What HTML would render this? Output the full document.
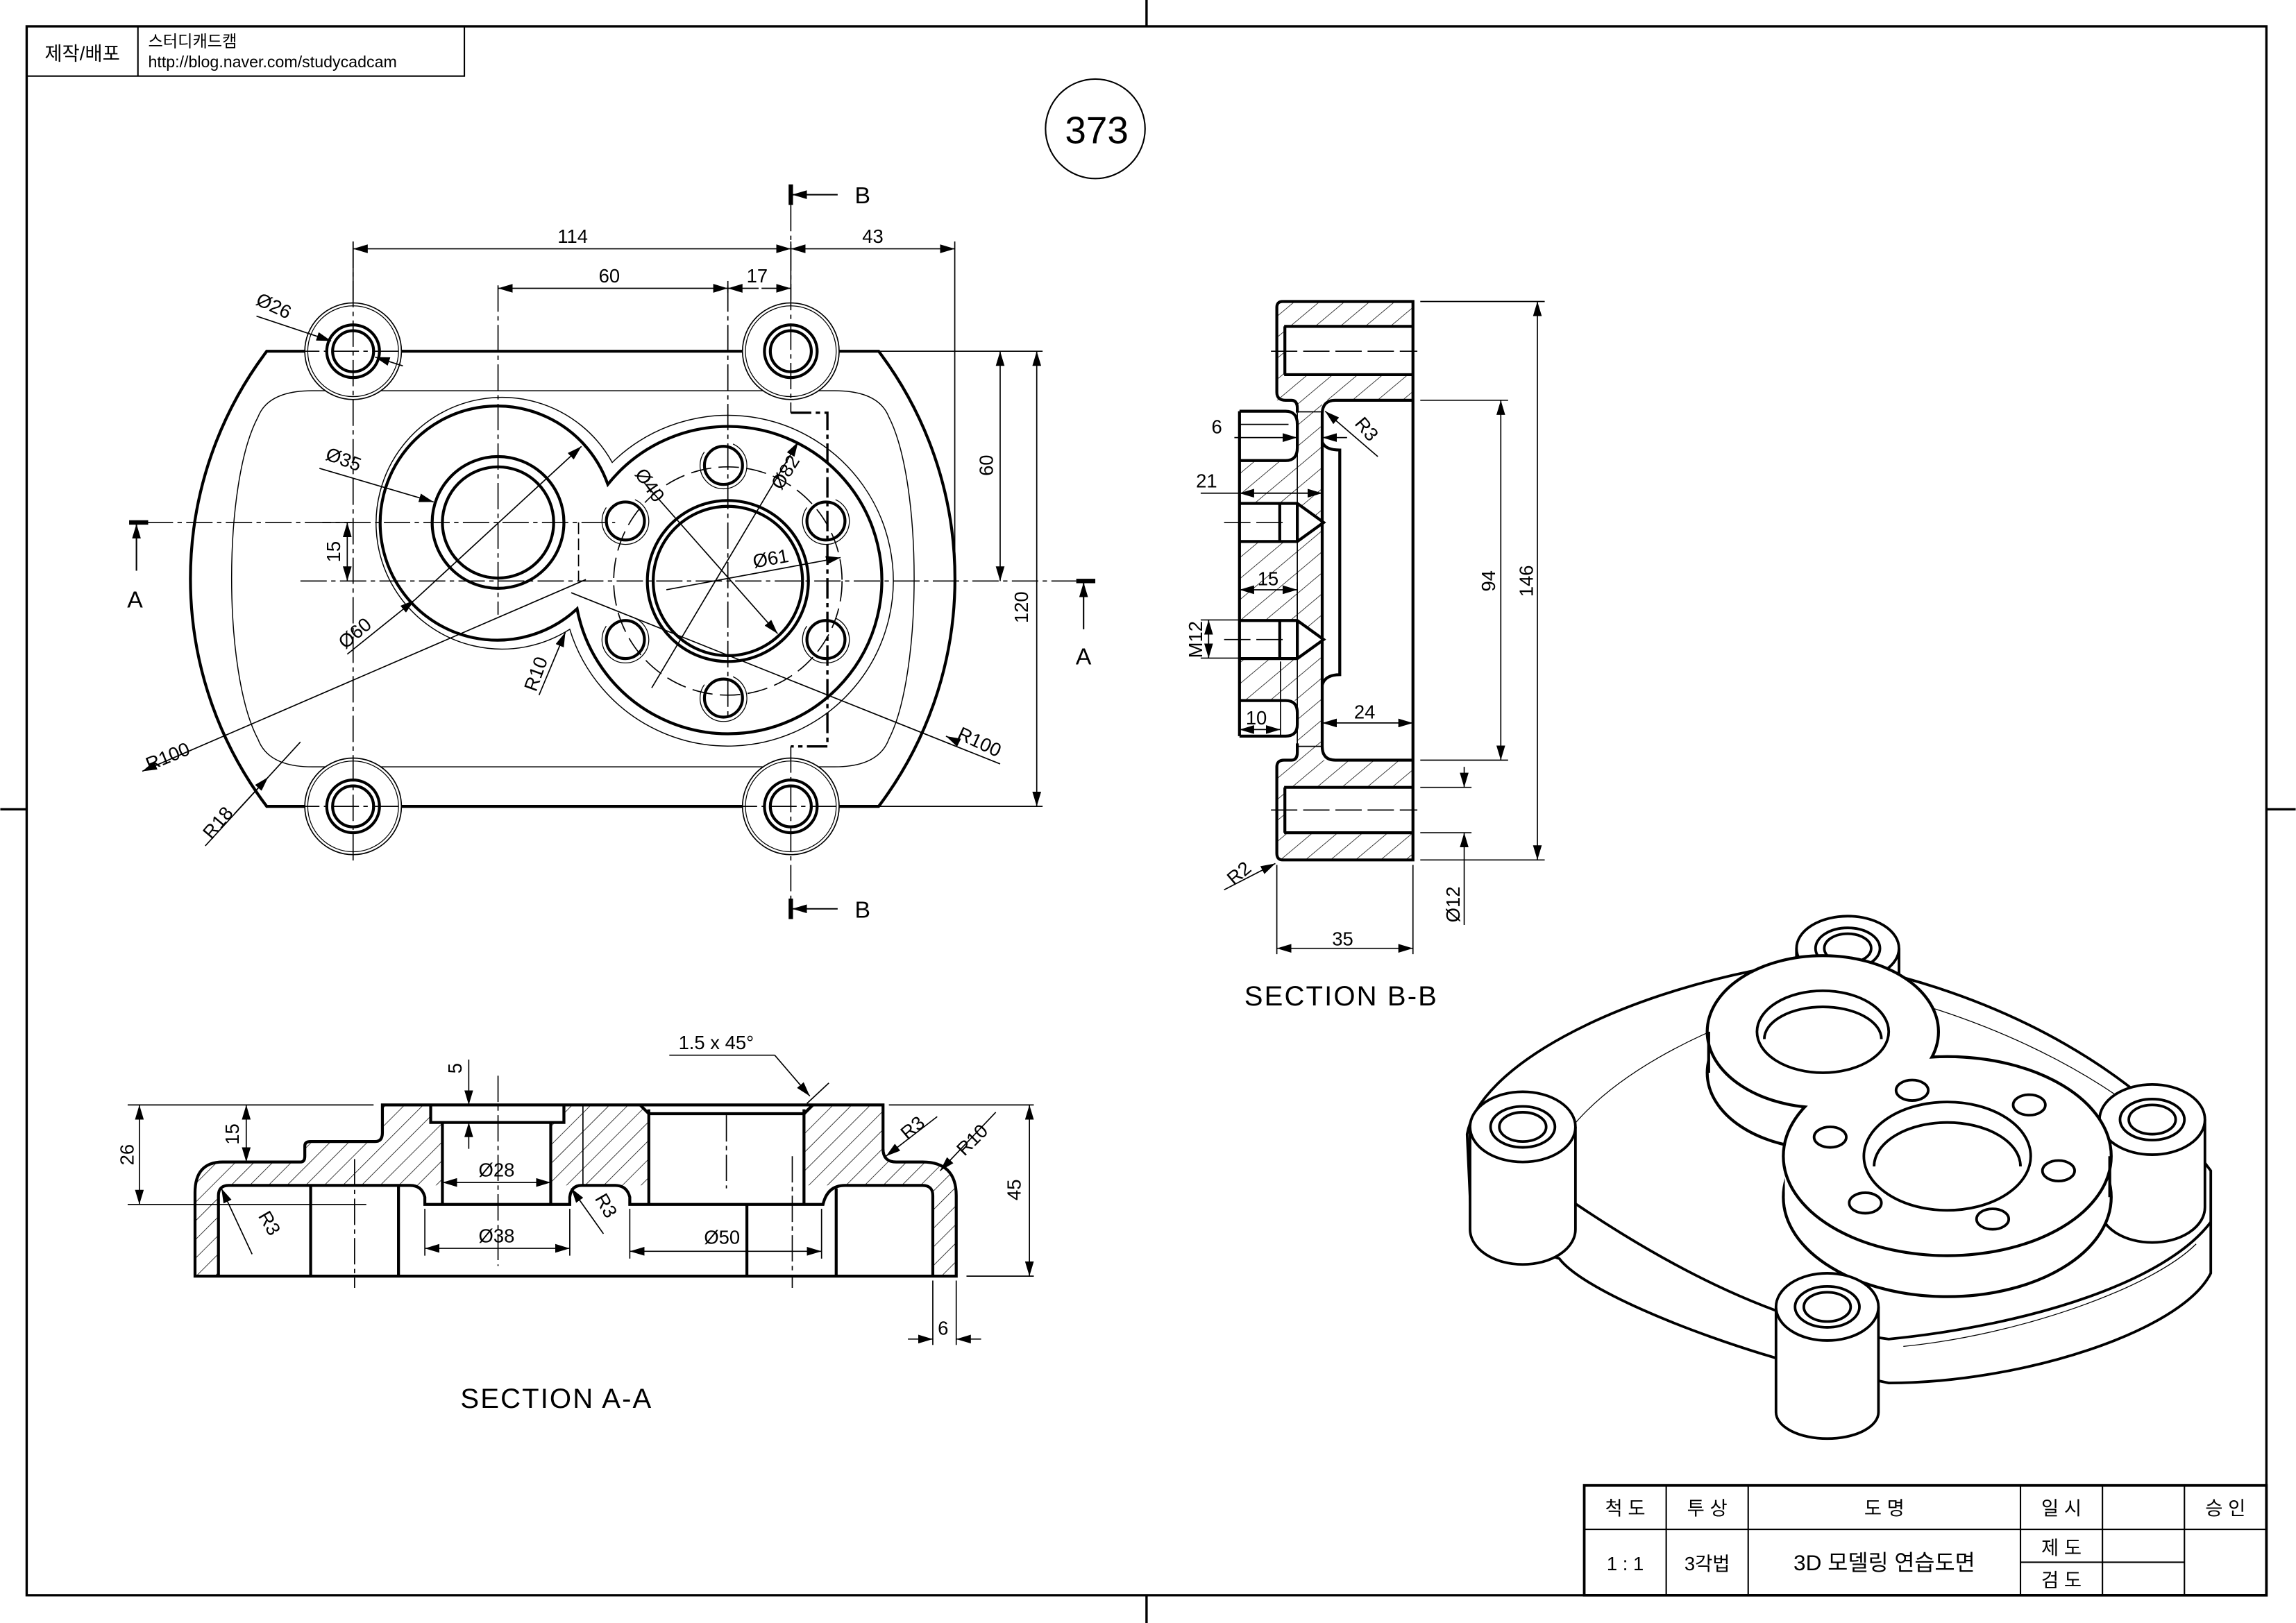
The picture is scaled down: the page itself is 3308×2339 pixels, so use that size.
<!DOCTYPE html>
<html><head><meta charset="utf-8"><style>
html,body{margin:0;padding:0;background:#fff}
svg{display:block}
text{font-family:"Liberation Sans","Noto Sans CJK KR",sans-serif;fill:#000}
</style></head><body>
<svg xmlns="http://www.w3.org/2000/svg" width="3308" height="2339" viewBox="0 0 1568 1109">
<defs>
<marker id="a" viewBox="0 0 10 6" refX="10" refY="3" markerWidth="10" markerHeight="6" markerUnits="userSpaceOnUse" orient="auto-start-reverse"><path d="M0,0 L10,3 L0,6 z" fill="#000"/></marker>
<pattern id="h" width="9" height="9" patternUnits="userSpaceOnUse" patternTransform="rotate(-45)"><line x1="0" y1="0" x2="9" y2="0" stroke="#000" stroke-width="0.7"/></pattern>
<pattern id="h2" width="11" height="11" patternUnits="userSpaceOnUse" patternTransform="rotate(-40)"><line x1="0" y1="0" x2="11" y2="0" stroke="#000" stroke-width="0.7"/></pattern>
</defs>
<rect width="1568" height="1109" fill="#fff"/>
<g stroke="#000" fill="none">
<rect x="18" y="18" width="1530" height="1072" stroke-width="1.6"/>
<line x1="783" y1="0" x2="783" y2="18" stroke-width="1.6"/>
<line x1="783" y1="1090" x2="783" y2="1109" stroke-width="1.6"/>
<line x1="0" y1="553" x2="18" y2="553" stroke-width="1.6"/>
<line x1="1548" y1="553" x2="1568" y2="553" stroke-width="1.6"/>
<rect x="18" y="18" width="299" height="34" stroke-width="1"/>
<line x1="94" y1="18" x2="94" y2="52" stroke-width="1"/>
<circle cx="748" cy="88" r="34" stroke-width="1"/>
</g>
<text x="56" y="41" font-size="13" text-anchor="middle">제작/배포</text>
<text x="101" y="32" font-size="11">스터디캐드캠</text>
<text x="101" y="46" font-size="11">http://blog.naver.com/studycadcam</text>
<text x="749" y="98" font-size="26" text-anchor="middle">373</text>

<!-- TOP VIEW -->
<g fill="none" stroke="#000">
<path d="M213,267 L570,267 Q600,267 607,285 C630,330 630,460 607,505 Q600,524 570,524 L213,524 Q183,524 176,505 C152,460 152,330 176,285 Q183,267 213,267 Z" stroke-width="0.7"/>
<path d="M274,240 L507,240 M573,240 L600,240 A258,258 0 0,1 600,551 L573,551 M507,551 L274,551 M208,551 L182,551 A258,258 0 0,1 182,240 L208,240" stroke-width="2"/>
<path d="M418,316 A86,86 0 1,0 389,430 A113,113 0 1,0 418,316 Z" stroke-width="0.7"/>
<path d="M415,331 A80,80 0 1,0 394,416 A105,105 0 1,0 415,331 Z" stroke-width="2"/>
<circle cx="340" cy="357" r="45" stroke-width="2"/>
<circle cx="340" cy="357" r="38" stroke-width="2"/>
<circle cx="497" cy="397" r="55" stroke-width="2"/>
<circle cx="497" cy="397" r="51" stroke-width="2"/>
<circle cx="497" cy="397" r="78" stroke-width="0.8" stroke-dasharray="14 5"/>
<g stroke-width="2">
<circle cx="494" cy="318" r="13"/><circle cx="427" cy="356" r="13"/><circle cx="427" cy="437" r="13"/>
<circle cx="494" cy="477" r="13"/><circle cx="564" cy="356" r="13"/><circle cx="564" cy="437" r="13"/>
</g>
<g stroke-width="0.6" stroke-dasharray="60 22">
<circle cx="494" cy="318" r="16"/><circle cx="427" cy="356" r="16"/><circle cx="427" cy="437" r="16"/>
<circle cx="494" cy="477" r="16"/><circle cx="564" cy="356" r="16"/><circle cx="564" cy="437" r="16"/>
</g>
<g>
<circle cx="241" cy="240" r="33" stroke-width="0.8" fill="#fff"/><circle cx="241" cy="240" r="31" stroke-width="0.6"/><circle cx="241" cy="240" r="18" stroke-width="2"/><circle cx="241" cy="240" r="14" stroke-width="2"/>
<circle cx="540" cy="240" r="33" stroke-width="0.8" fill="#fff"/><circle cx="540" cy="240" r="31" stroke-width="0.6"/><circle cx="540" cy="240" r="18" stroke-width="2"/><circle cx="540" cy="240" r="14" stroke-width="2"/>
<circle cx="241" cy="551" r="33" stroke-width="0.8" fill="#fff"/><circle cx="241" cy="551" r="31" stroke-width="0.6"/><circle cx="241" cy="551" r="18" stroke-width="2"/><circle cx="241" cy="551" r="14" stroke-width="2"/>
<circle cx="540" cy="551" r="33" stroke-width="0.8" fill="#fff"/><circle cx="540" cy="551" r="31" stroke-width="0.6"/><circle cx="540" cy="551" r="18" stroke-width="2"/><circle cx="540" cy="551" r="14" stroke-width="2"/>
</g>
<g stroke-width="0.8" stroke-dasharray="18 3 3 3">
<line x1="100" y1="357" x2="420" y2="357"/>
<line x1="205" y1="397" x2="735" y2="397"/>
<line x1="340" y1="195" x2="340" y2="420"/>
<line x1="497" y1="195" x2="497" y2="490"/>
<line x1="241" y1="165" x2="241" y2="590"/>
<line x1="200" y1="240" x2="282" y2="240"/><line x1="200" y1="551" x2="282" y2="551"/>
<line x1="499" y1="551" x2="581" y2="551"/>
<line x1="540" y1="140" x2="540" y2="282"/><line x1="540" y1="510" x2="540" y2="614"/>
</g>
<path d="M540,282 L565,282 L565,510 L540,510" stroke-width="1.6" stroke-dasharray="14 3 3 3"/>
<line x1="395" y1="357" x2="395" y2="397" stroke-width="0.8" stroke-dasharray="8 3"/>
<line x1="88" y1="357" x2="101" y2="357" stroke-width="3"/>
<line x1="93" y1="390" x2="93" y2="358" stroke-width="1" marker-end="url(#a)"/>
<line x1="735" y1="397" x2="748" y2="397" stroke-width="3"/>
<line x1="740" y1="430" x2="740" y2="398" stroke-width="1" marker-end="url(#a)"/>
<line x1="540" y1="126" x2="540" y2="140" stroke-width="3"/>
<line x1="572" y1="133" x2="541" y2="133" stroke-width="1" marker-end="url(#a)"/>
<line x1="540" y1="614" x2="540" y2="628" stroke-width="3"/>
<line x1="572" y1="621" x2="541" y2="621" stroke-width="1" marker-end="url(#a)"/>
<g stroke-width="0.8">
<line x1="241" y1="165" x2="241" y2="205"/><line x1="540" y1="165" x2="540" y2="205"/><line x1="652" y1="165" x2="652" y2="392"/>
<line x1="241" y1="170" x2="540" y2="170" marker-start="url(#a)" marker-end="url(#a)"/>
<line x1="540" y1="170" x2="652" y2="170" marker-start="url(#a)" marker-end="url(#a)"/>
<line x1="340" y1="197" x2="497" y2="197" marker-start="url(#a)" marker-end="url(#a)"/>
<line x1="497" y1="192" x2="497" y2="200"/>
<line x1="520" y1="197" x2="540" y2="197" marker-end="url(#a)"/>
<line x1="518" y1="197" x2="497" y2="197" marker-end="url(#a)"/>
<line x1="575" y1="240" x2="712" y2="240"/><line x1="600" y1="551" x2="712" y2="551"/>
<line x1="683" y1="240" x2="683" y2="397" marker-start="url(#a)" marker-end="url(#a)"/>
<line x1="708" y1="240" x2="708" y2="551" marker-start="url(#a)" marker-end="url(#a)"/>
<line x1="237" y1="357" x2="237" y2="397" marker-start="url(#a)" marker-end="url(#a)"/>
<line x1="220" y1="357" x2="240" y2="357"/>
<line x1="175" y1="216" x2="226" y2="233" marker-end="url(#a)"/>
<line x1="275" y1="250" x2="256" y2="244" marker-end="url(#a)"/>
<line x1="218" y1="320" x2="296" y2="343" marker-end="url(#a)"/>
<line x1="237" y1="447" x2="283" y2="410" marker-end="url(#a)"/>
<line x1="283" y1="410" x2="397" y2="305" marker-end="url(#a)"/>
<line x1="445" y1="470" x2="545" y2="302" marker-end="url(#a)"/>
<line x1="455" y1="403" x2="574" y2="381" marker-end="url(#a)"/>
<line x1="440" y1="330" x2="531" y2="433" marker-end="url(#a)"/>
<line x1="97" y1="527" x2="400" y2="396" marker-start="url(#a)"/>
<line x1="683" y1="522" x2="390" y2="405"/>
<line x1="652" y1="506" x2="646" y2="503" marker-end="url(#a)"/>
<line x1="140" y1="578" x2="205" y2="507"/>
<line x1="160" y1="556" x2="183" y2="531" marker-end="url(#a)"/>
<line x1="368" y1="475" x2="386" y2="432" marker-end="url(#a)"/>
</g>
</g>
<g font-size="13">
<text x="391" y="166" text-anchor="middle">114</text>
<text x="596" y="166" text-anchor="middle">43</text>
<text x="416" y="193" text-anchor="middle">60</text>
<text x="517" y="193" text-anchor="middle">17</text>
<text transform="translate(678,318) rotate(-90)" text-anchor="middle">60</text>
<text transform="translate(702,415) rotate(-90)" text-anchor="middle">120</text>
<text transform="translate(232,377) rotate(-90)" text-anchor="middle">15</text>
<text transform="translate(185,213) rotate(25)" text-anchor="middle">Ø26</text>
<text transform="translate(233,318) rotate(20)" text-anchor="middle">Ø35</text>
<text transform="translate(245,436) rotate(-40)" text-anchor="middle">Ø60</text>
<text transform="translate(440,334) rotate(55)" text-anchor="middle">Ø40</text>
<text transform="translate(540,325) rotate(-58)" text-anchor="middle">Ø82</text>
<text transform="translate(527,386) rotate(-10)" text-anchor="middle">Ø61</text>
<text transform="translate(370,462) rotate(-70)" text-anchor="middle">R10</text>
<text transform="translate(116,521) rotate(-22)" text-anchor="middle">R100</text>
<text transform="translate(667,511) rotate(25)" text-anchor="middle">R100</text>
<text transform="translate(152,565) rotate(-50)" text-anchor="middle">R18</text>
</g>
<g font-size="16">
<text x="92" y="415" text-anchor="middle">A</text>
<text x="740" y="454" text-anchor="middle">A</text>
<text x="589" y="139" text-anchor="middle">B</text>
<text x="589" y="627" text-anchor="middle">B</text>
</g>

<!-- SECTION A-A -->
<path d="M133,872 L133,815 Q133,794 152,794 L205,794 Q208,794 208,790 L208,783 Q208,780 212,780 L256,780 Q261,780 261,774 L261,755 L603,755 L603,785 Q603,794 612,794 L630,794 Q653,794 653,817 L653,872 L637,872 L637,817 Q637,810 630,810 L577,810 Q571,810 569,815 L562,823 L430,823 L430,818 Q428,810 420,810 L397,810 Q390,810 389,818 L389,823 L290,823 L290,818 Q288,810 280,810 L156,810 Q149,810 149,817 L149,872 Z" fill="url(#h)" stroke="none"/>
<g fill="#fff" stroke="none">
<path d="M294,755 L385,755 L385,767 L376,767 L376,823 L302,823 L302,767 L294,767 Z"/>
<path d="M437,755 L555,755 L549,761 L549,823 L443,823 L443,761 Z"/>
<rect x="149" y="810" width="488" height="62"/>
<rect x="290" y="810" width="99" height="13"/>
<rect x="430" y="810" width="141" height="13"/>
</g>
<g fill="none" stroke="#000" stroke-width="2">
<path d="M133,872 L133,815 Q133,794 152,794 L205,794 Q208,794 208,790 L208,783 Q208,780 212,780 L256,780 Q261,780 261,774 L261,755 L603,755 L603,785 Q603,794 612,794 L630,794 Q653,794 653,817 L653,872 Z"/>
<path d="M149,872 L149,817 Q149,810 156,810 L280,810 Q288,810 290,818 L290,823 L389,823 L389,818 Q390,810 397,810 L420,810 Q428,810 430,818 L430,823 L562,823 Q565,810 577,810 L630,810 Q637,810 637,817 L637,872"/>
<line x1="212" y1="810" x2="212" y2="872"/><line x1="272" y1="810" x2="272" y2="872"/>
<line x1="510" y1="823" x2="510" y2="872"/><line x1="571" y1="812" x2="571" y2="872"/>
<path d="M294,755 L294,767 L385,767 L385,755"/>
<line x1="302" y1="767" x2="302" y2="823"/><line x1="376" y1="767" x2="376" y2="823"/>
<line x1="443" y1="758" x2="443" y2="823"/><line x1="549" y1="758" x2="549" y2="823"/>
<line x1="443" y1="761" x2="549" y2="761"/>
<line x1="437" y1="755" x2="443" y2="761"/><line x1="555" y1="755" x2="549" y2="761"/>
</g>
<g fill="none" stroke="#000" stroke-width="0.8">
<line x1="398" y1="755" x2="398" y2="810"/>
<g stroke-dasharray="18 3 3 3">
<line x1="340" y1="735" x2="340" y2="865"/>
<line x1="242" y1="792" x2="242" y2="880"/>
<line x1="541" y1="790" x2="541" y2="880"/>
<line x1="496" y1="762" x2="496" y2="812"/>
</g>
<line x1="87" y1="755" x2="255" y2="755"/><line x1="87" y1="823" x2="250" y2="823"/>
<line x1="95" y1="755" x2="95" y2="823" marker-start="url(#a)" marker-end="url(#a)"/>
<line x1="168" y1="755" x2="168" y2="794" marker-start="url(#a)" marker-end="url(#a)"/>
<line x1="320" y1="724" x2="320" y2="755" marker-end="url(#a)"/>
<line x1="320" y1="785" x2="320" y2="767" marker-end="url(#a)"/>
<line x1="302" y1="808" x2="376" y2="808" marker-start="url(#a)" marker-end="url(#a)"/>
<line x1="290" y1="826" x2="290" y2="858"/><line x1="389" y1="826" x2="389" y2="858"/>
<line x1="290" y1="853" x2="389" y2="853" marker-start="url(#a)" marker-end="url(#a)"/>
<line x1="430" y1="826" x2="430" y2="860"/><line x1="561" y1="826" x2="561" y2="860"/>
<line x1="430" y1="855" x2="561" y2="855" marker-start="url(#a)" marker-end="url(#a)"/>
<line x1="607" y1="755" x2="706" y2="755"/><line x1="660" y1="872" x2="706" y2="872"/>
<line x1="703" y1="755" x2="703" y2="872" marker-start="url(#a)" marker-end="url(#a)"/>
<line x1="637" y1="875" x2="637" y2="919"/><line x1="653" y1="875" x2="653" y2="919"/>
<line x1="620" y1="915" x2="637" y2="915" marker-end="url(#a)"/>
<line x1="670" y1="915" x2="653" y2="915" marker-end="url(#a)"/>
<line x1="457" y1="721" x2="529" y2="721"/>
<line x1="529" y1="721" x2="553" y2="749" marker-end="url(#a)"/>
<line x1="551" y1="754" x2="566" y2="740"/>
<line x1="640" y1="763" x2="605" y2="790" marker-end="url(#a)"/>
<line x1="680" y1="760" x2="642" y2="800" marker-end="url(#a)"/>
<line x1="172" y1="857" x2="151" y2="812" marker-end="url(#a)"/>
<line x1="412" y1="843" x2="390" y2="812" marker-end="url(#a)"/>
</g>
<g font-size="13">
<text transform="translate(91,789) rotate(-90)" text-anchor="middle">26</text>
<text transform="translate(163,775) rotate(-90)" text-anchor="middle">15</text>
<text transform="translate(315,730) rotate(-90)" text-anchor="middle">5</text>
<text x="339" y="804" text-anchor="middle">Ø28</text>
<text x="339" y="849" text-anchor="middle">Ø38</text>
<text x="493" y="850" text-anchor="middle">Ø50</text>
<text transform="translate(697,813) rotate(-90)" text-anchor="middle">45</text>
<text x="644" y="912" text-anchor="middle">6</text>
<text x="489" y="717" text-anchor="middle">1.5 x 45°</text>
<text transform="translate(626,774) rotate(-40)" text-anchor="middle">R3</text>
<text transform="translate(667,782) rotate(-45)" text-anchor="middle">R10</text>
<text transform="translate(180,838) rotate(60)" text-anchor="middle">R3</text>
<text transform="translate(410,826) rotate(60)" text-anchor="middle">R3</text>
</g>
<text x="380" y="962" font-size="19" text-anchor="middle" letter-spacing="1">SECTION A-A</text>

<!-- SECTION B-B -->
<path d="M872,206 L965,206 L965,273.5 L903,273.5 L903,519.4 L965,519.4 L965,587.6 L872,587.6 L872,519.4 L886,519.4 L886,478.7 L846.5,478.7 L846.5,314.7 L886,314.7 L886,273.5 L872,273.5 Z" fill="url(#h2)" stroke="none"/>
<g fill="#fff" stroke="none">
<rect x="877" y="223" width="88" height="33"/>
<rect x="877" y="538" width="88" height="31"/>
<path d="M846.5,344 L886,344 L904,357 L886,370 L846.5,370 Z"/>
<path d="M846.5,424 L886,424 L904,437 L886,450 L846.5,450 Z"/>
<rect x="903" y="307.5" width="12" height="154"/>
</g>
<g fill="none" stroke="#000" stroke-width="2">
<path d="M876,206 L965,206 L965,587.6 L876,587.6 Q872,587.6 872,583 L872,524 Q872,519.4 877,519.4 L882,519.4 Q886,519.4 886,514 L886,508"/>
<path d="M876,206 Q872,206 872,210 L872,268 Q872,273.5 878,273.5 L882,273.5 Q886,273.5 886,279 L886,282"/>
<path d="M846.5,281 L878,281 Q886,281 886,290 L886,306 Q886,314.7 878,314.7 L846.5,314.7"/>
<line x1="846.5" y1="281" x2="846.5" y2="503"/>
<path d="M846.5,478.7 L878,478.7 Q886,478.7 886,487 L886,495 Q886,503 878,503 L846.5,503"/>
<path d="M965,273.5 L912,273.5 Q903,273.5 903,283 L903,510 Q903,519.4 912,519.4 L965,519.4"/>
<path d="M903,302 Q905,307.5 915,307.5 L915,461 Q905,461 903,468"/>
<line x1="877" y1="223" x2="965" y2="223"/><line x1="877" y1="256" x2="965" y2="256"/><line x1="877.5" y1="223" x2="877.5" y2="256"/>
<line x1="877" y1="538" x2="965" y2="538"/><line x1="877" y1="569" x2="965" y2="569"/><line x1="877.5" y1="538" x2="877.5" y2="569"/>
<path d="M846.5,344 L886,344 L904,357 L886,370 L846.5,370 M886,344 L886,370 M874,343 L874,371"/>
<path d="M846.5,424 L886,424 L904,437 L886,450 L846.5,450 M886,424 L886,450 M874,423 L874,451"/>
</g>
<g fill="none" stroke="#000" stroke-width="0.8">
<line x1="846.5" y1="290" x2="880" y2="290"/>
<line x1="886" y1="281.4" x2="903" y2="281.4"/><line x1="886" y1="510" x2="903" y2="510"/>
<line x1="886" y1="282" x2="886" y2="510"/>
<g stroke-dasharray="18 4">
<line x1="868" y1="240" x2="968" y2="240"/><line x1="868" y1="553.5" x2="968" y2="553.5"/>
<line x1="836" y1="357" x2="880" y2="357"/><line x1="836" y1="437" x2="880" y2="437"/>
</g>
<line x1="970" y1="206" x2="1055" y2="206"/><line x1="970" y1="587.6" x2="1055" y2="587.6"/>
<line x1="1050" y1="206" x2="1050" y2="587.6" marker-start="url(#a)" marker-end="url(#a)"/>
<line x1="970" y1="273.5" x2="1030" y2="273.5"/><line x1="970" y1="519.4" x2="1030" y2="519.4"/>
<line x1="1025" y1="273.5" x2="1025" y2="519.4" marker-start="url(#a)" marker-end="url(#a)"/>
<line x1="970" y1="538" x2="1005" y2="538"/><line x1="970" y1="569" x2="1005" y2="569"/>
<line x1="1000" y1="524" x2="1000" y2="538" marker-end="url(#a)"/>
<line x1="1000" y1="632" x2="1000" y2="569" marker-end="url(#a)"/>
<line x1="872" y1="591" x2="872" y2="652"/><line x1="965" y1="591" x2="965" y2="652"/>
<line x1="872" y1="648" x2="965" y2="648" marker-start="url(#a)" marker-end="url(#a)"/>
<line x1="843" y1="299" x2="886" y2="299" marker-end="url(#a)"/>
<line x1="920" y1="299" x2="903" y2="299" marker-end="url(#a)"/>
<line x1="820" y1="337" x2="903" y2="337" marker-end="url(#a)"/>
<line x1="903" y1="337" x2="846.5" y2="337" marker-end="url(#a)"/>
<line x1="846.5" y1="403" x2="886" y2="403" marker-start="url(#a)" marker-end="url(#a)"/>
<line x1="886" y1="398" x2="886" y2="422"/>
<line x1="820" y1="423.6" x2="853" y2="423.6"/><line x1="820" y1="449.7" x2="853" y2="449.7"/>
<line x1="825.4" y1="423.6" x2="825.4" y2="449.7" marker-start="url(#a)" marker-end="url(#a)"/>
<line x1="874.5" y1="452" x2="874.5" y2="503"/>
<line x1="846.5" y1="498.5" x2="874.5" y2="498.5" marker-start="url(#a)" marker-end="url(#a)"/>
<line x1="903" y1="494" x2="965" y2="494" marker-start="url(#a)" marker-end="url(#a)"/>
<line x1="941" y1="312" x2="905" y2="281" marker-end="url(#a)"/>
<line x1="836" y1="608" x2="871" y2="590" marker-end="url(#a)"/>
</g>
<g font-size="13">
<text transform="translate(1047,397) rotate(-90)" text-anchor="middle">146</text>
<text transform="translate(1021,397) rotate(-90)" text-anchor="middle">94</text>
<text transform="translate(997,618) rotate(-90)" text-anchor="middle">Ø12</text>
<text x="917" y="646" text-anchor="middle">35</text>
<text x="831" y="296" text-anchor="middle">6</text>
<text x="824" y="333" text-anchor="middle">21</text>
<text x="866" y="400" text-anchor="middle">15</text>
<text transform="translate(821,437) rotate(-90)" text-anchor="middle">M12</text>
<text x="858" y="495" text-anchor="middle">10</text>
<text x="932" y="491" text-anchor="middle">24</text>
<text transform="translate(930,296) rotate(50)" text-anchor="middle">R3</text>
<text transform="translate(849,600) rotate(-40)" text-anchor="middle">R2</text>
</g>
<text x="916" y="687" font-size="19" text-anchor="middle" letter-spacing="1">SECTION B-B</text>

<!-- ISOMETRIC -->
<g stroke="#000" stroke-width="1.8" fill="#fff">
<path d="M1227,648 L1227,680 L1297,680 L1297,648"/>
<path d="M1002,775 C1010,730 1100,680 1215,660 L1300,668 C1380,690 1450,730 1495,780 L1510,800 L1510,870 C1490,910 1380,945 1290,945 L1220,930 C1150,910 1080,880 1065,860 L1005,840 Z"/>
<path d="M1065,815 C1130,860 1210,905 1290,915 C1390,905 1480,875 1510,835" fill="none"/>
<path d="M1060,790 C1090,735 1170,700 1228,683 M1297,682 C1380,705 1440,740 1480,775" fill="none" stroke-width="0.6"/>
<path d="M1300,920 C1380,912 1470,880 1500,850" fill="none" stroke-width="0.6"/>
<path d="M1227,648 L1227,674 A35,10 0 0,0 1297,674 L1297,648"/>
<ellipse cx="1262" cy="648" rx="35" ry="22"/>
<ellipse cx="1262" cy="648" rx="22" ry="14"/>
<ellipse cx="1262" cy="648" rx="16" ry="10"/>
<path d="M1004,770 L1004,840 A36,24 0 0,0 1076,840 L1076,770"/>
<ellipse cx="1040" cy="770" rx="36" ry="24"/>
<ellipse cx="1040" cy="770" rx="22" ry="14"/>
<ellipse cx="1040" cy="770" rx="16" ry="10"/>
<path d="M1434,765 L1434,825 A36,24 0 0,0 1506,825 L1506,765"/>
<ellipse cx="1470" cy="765" rx="36" ry="24"/>
<ellipse cx="1470" cy="765" rx="22" ry="14"/>
<ellipse cx="1470" cy="765" rx="16" ry="10"/>
</g>
<g stroke="#000" fill="#fff">
<ellipse cx="1245" cy="733" rx="78" ry="51" stroke-width="4"/>
<ellipse cx="1330" cy="818" rx="111" ry="67" stroke-width="4"/>
<g stroke="none">
<ellipse cx="1245" cy="733" rx="78" ry="51"/><ellipse cx="1330" cy="818" rx="111" ry="67"/>
<ellipse cx="1245" cy="729" rx="78" ry="51"/><ellipse cx="1330" cy="814" rx="111" ry="67"/>
<ellipse cx="1245" cy="724" rx="78" ry="51"/><ellipse cx="1330" cy="809" rx="111" ry="67"/>
<ellipse cx="1245" cy="719" rx="78" ry="51"/><ellipse cx="1330" cy="804" rx="111" ry="67"/>
<ellipse cx="1245" cy="714" rx="78" ry="51"/><ellipse cx="1330" cy="799" rx="111" ry="67"/>
<ellipse cx="1245" cy="709" rx="78" ry="51"/><ellipse cx="1330" cy="794" rx="111" ry="67"/>
</g>
<ellipse cx="1245" cy="705" rx="78" ry="51" stroke-width="4"/>
<ellipse cx="1330" cy="790" rx="111" ry="67" stroke-width="4"/>
<g stroke="none">
<ellipse cx="1245" cy="705" rx="78" ry="51"/><ellipse cx="1330" cy="790" rx="111" ry="67"/>
</g>
<line x1="1167" y1="705" x2="1167" y2="733" stroke-width="2"/>
<line x1="1441" y1="790" x2="1441" y2="818" stroke-width="2"/>
<g stroke-width="1.8" fill="none">
<ellipse cx="1245" cy="705" rx="45" ry="28"/>
<path d="M1205,710 A40,22 0 0,1 1285,710"/>
<ellipse cx="1330" cy="790" rx="57" ry="37"/>
<path d="M1280,797 A50,30 0 0,1 1380,797"/>
<ellipse cx="1306" cy="745" rx="11" ry="7"/><ellipse cx="1386" cy="755" rx="11" ry="7"/>
<ellipse cx="1406" cy="800" rx="11" ry="7"/><ellipse cx="1361" cy="833" rx="11" ry="7"/>
<ellipse cx="1274" cy="822" rx="11" ry="7"/><ellipse cx="1250" cy="777" rx="11" ry="7"/>
</g>
</g>
<g stroke="#000" stroke-width="1.8" fill="#fff">
<path d="M1213,893 L1213,965 A35,18 0 0,0 1283,965 L1283,893"/>
<ellipse cx="1248" cy="893" rx="35" ry="23"/>
<ellipse cx="1248" cy="893" rx="22" ry="14"/>
<ellipse cx="1248" cy="893" rx="16" ry="10"/>
</g>

<!-- TITLE BLOCK -->
<g stroke="#000" fill="none">
<rect x="1082" y="1015" width="466" height="75" stroke-width="1.8"/>
<g stroke-width="1">
<line x1="1082" y1="1045" x2="1548" y2="1045"/>
<line x1="1380" y1="1067.5" x2="1492" y2="1067.5"/>
<line x1="1138" y1="1015" x2="1138" y2="1090"/>
<line x1="1194" y1="1015" x2="1194" y2="1090"/>
<line x1="1380" y1="1015" x2="1380" y2="1090"/>
<line x1="1436" y1="1015" x2="1436" y2="1090"/>
<line x1="1492" y1="1015" x2="1492" y2="1090"/>
</g>
</g>
<g font-size="13" text-anchor="middle">
<text x="1110" y="1035">척  도</text>
<text x="1166" y="1035">투  상</text>
<text x="1287" y="1035">도        명</text>
<text x="1408" y="1035">일  시</text>
<text x="1520" y="1035">승  인</text>
<text x="1110" y="1073">1 : 1</text>
<text x="1166" y="1073">3각법</text>
<text x="1287" y="1073" font-size="15">3D 모델링 연습도면</text>
<text x="1408" y="1062">제  도</text>
<text x="1408" y="1084">검  도</text>
</g>
</svg>
</body></html>
